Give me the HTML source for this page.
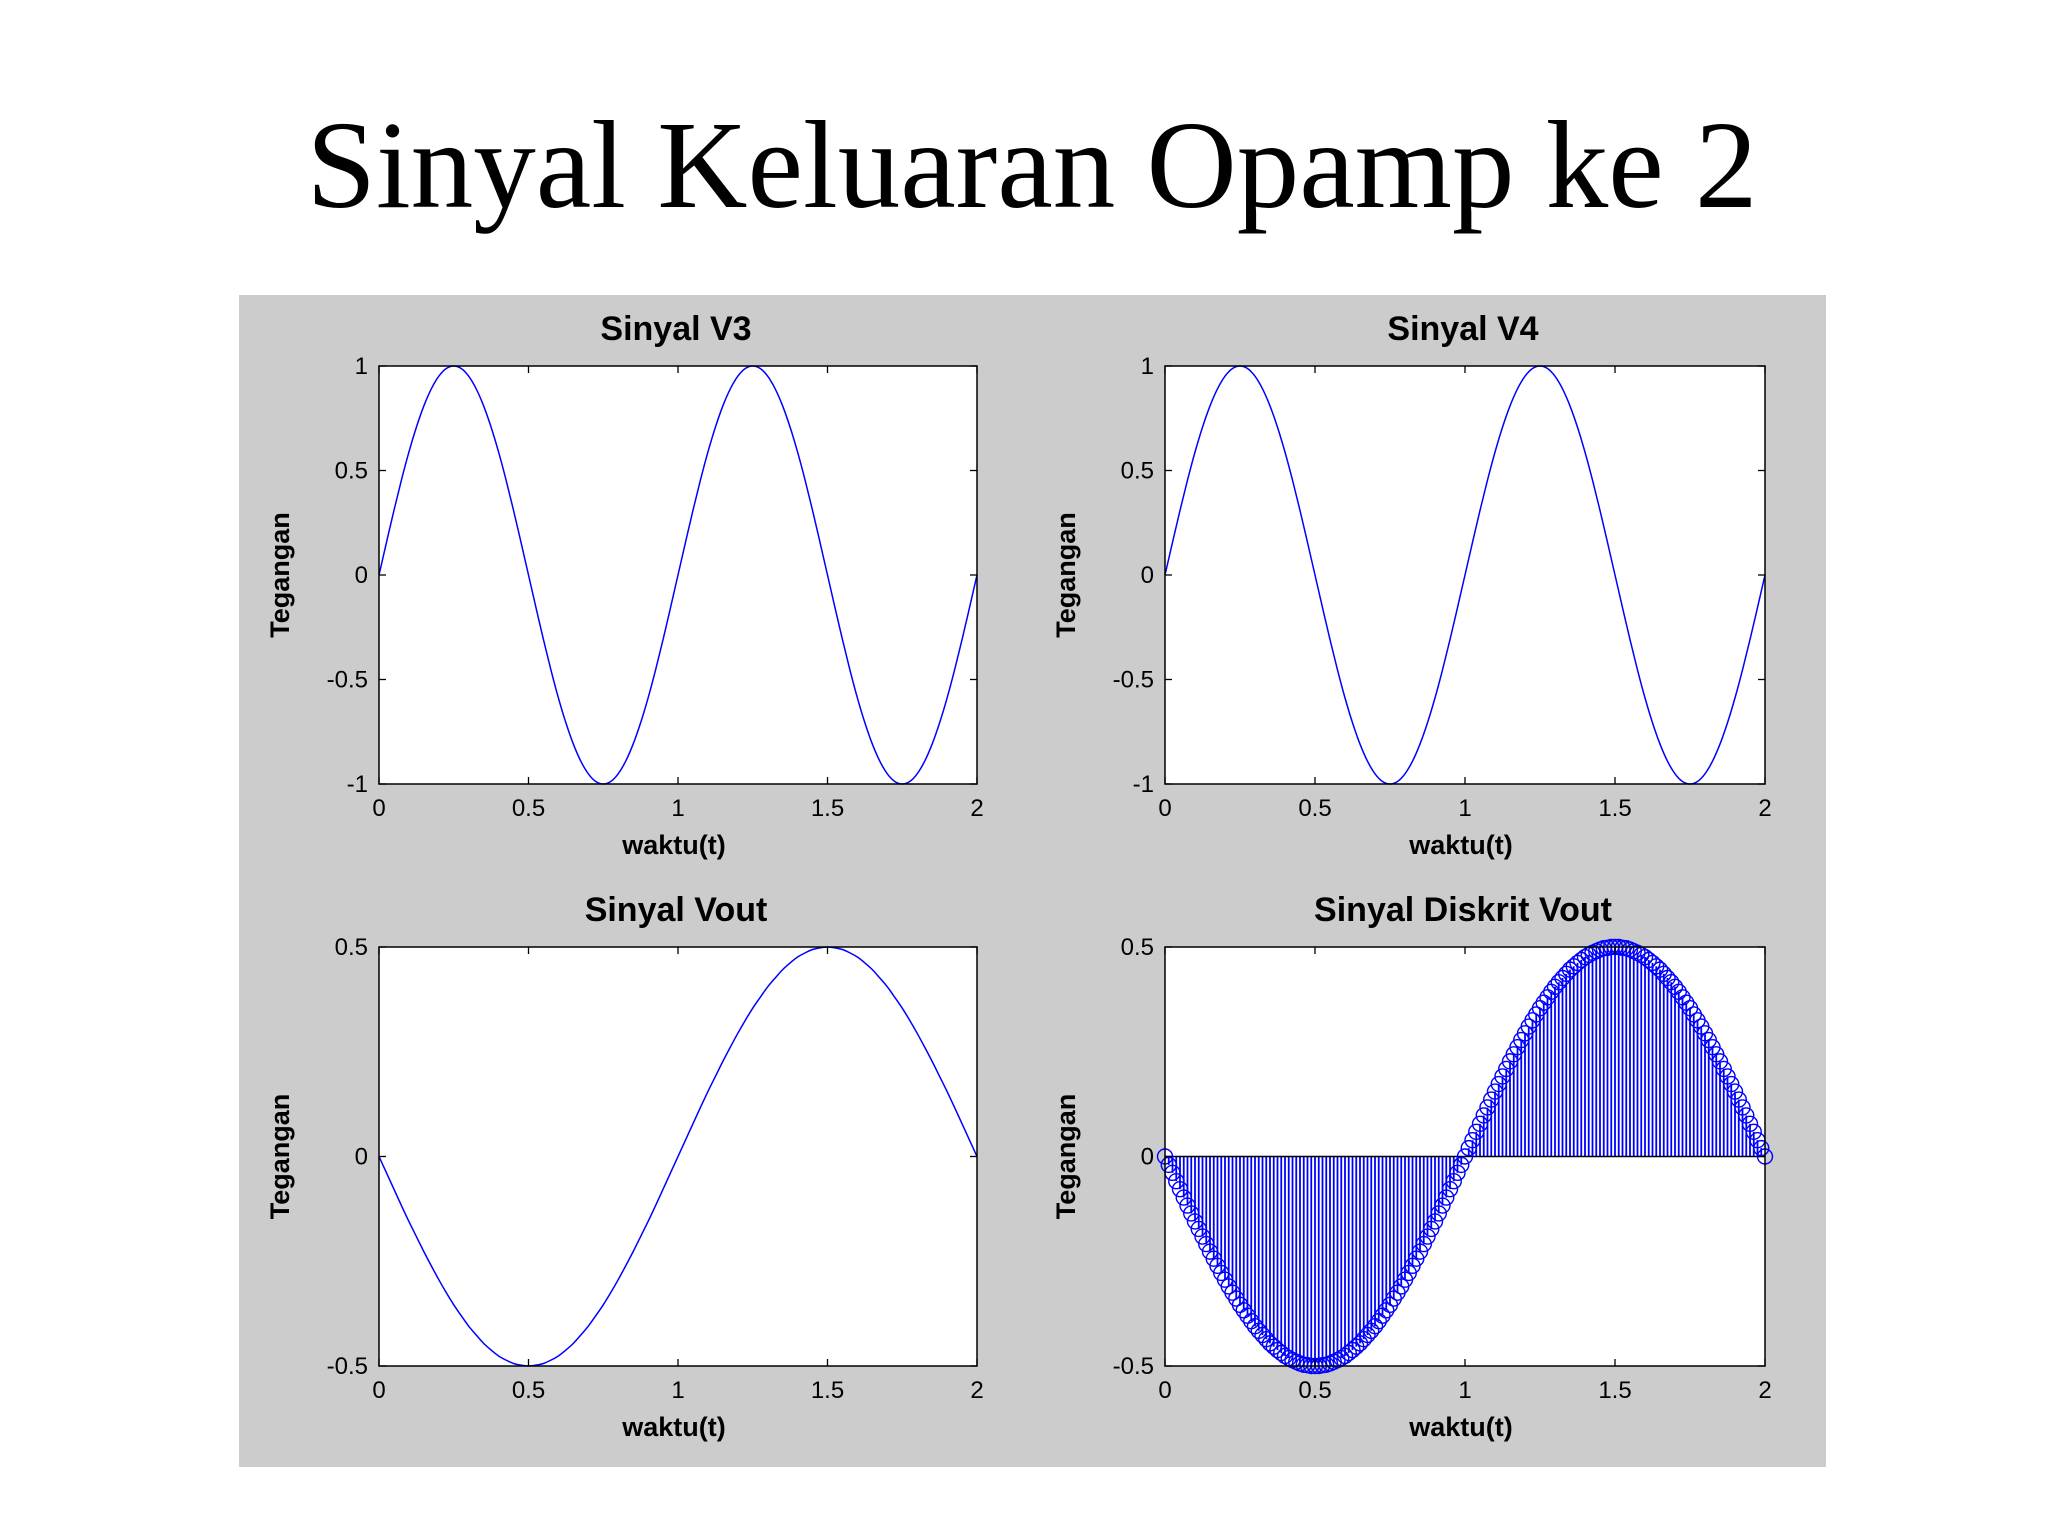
<!DOCTYPE html>
<html><head><meta charset="utf-8"><style>
html,body{margin:0;padding:0;background:#fff;}
body{width:2048px;height:1536px;position:relative;overflow:hidden;}
#title{position:absolute;left:0;width:2064px;top:104px;text-align:center;font-family:"Liberation Serif",serif;font-size:125px;color:#000;line-height:1;}
svg{position:absolute;left:0;top:0;}
</style></head><body>
<div id="title">Sinyal Keluaran Opamp ke 2</div>
<svg id="fig" width="2048" height="1536"></svg>
<script>
const v3Values = [0,.156,.309,.454,.588,.707,.809,.891,.951,.988,1,.988,.951,.891,.809,.707,.588,.454,.309,.156,0,-.156,-.309,-.454,-.588,-.707,-.809,-.891,-.951,-.988,-1,-.988,-.951,-.891,-.809,-.707,-.588,-.454,-.309,-.156,0,.156,.309,.454,.588,.707,.809,.891,.951,.988,1,.988,.951,.891,.809,.707,.588,.454,.309,.156,0,-.156,-.309,-.454,-.588,-.707,-.809,-.891,-.951,-.988,-1,-.988,-.951,-.891,-.809,-.707,-.588,-.454,-.309,-.156,0];
const v4Values = [0,.156,.309,.454,.588,.707,.809,.891,.951,.988,1,.988,.951,.891,.809,.707,.588,.454,.309,.156,0,-.156,-.309,-.454,-.588,-.707,-.809,-.891,-.951,-.988,-1,-.988,-.951,-.891,-.809,-.707,-.588,-.454,-.309,-.156,0,.156,.309,.454,.588,.707,.809,.891,.951,.988,1,.988,.951,.891,.809,.707,.588,.454,.309,.156,0,-.156,-.309,-.454,-.588,-.707,-.809,-.891,-.951,-.988,-1,-.988,-.951,-.891,-.809,-.707,-.588,-.454,-.309,-.156,0];
const voutValues = [0,-.039,-.078,-.117,-.155,-.191,-.227,-.261,-.294,-.325,-.354,-.380,-.405,-.426,-.446,-.462,-.476,-.486,-.494,-.498,-.5,-.498,-.494,-.486,-.476,-.462,-.446,-.426,-.405,-.380,-.354,-.325,-.294,-.261,-.227,-.191,-.155,-.117,-.078,-.039,0,.039,.078,.117,.155,.191,.227,.261,.294,.325,.354,.380,.405,.426,.446,.462,.476,.486,.494,.498,.5,.498,.494,.486,.476,.462,.446,.426,.405,.380,.354,.325,.294,.261,.227,.191,.155,.117,.078,.039,0];
const discreteValues = [0,-.020,-.039,-.059,-.078,-.098,-.117,-.136,-.155,-.173,-.191,-.209,-.227,-.244,-.261,-.278,-.294,-.310,-.325,-.339,-.354,-.367,-.380,-.393,-.405,-.416,-.426,-.436,-.446,-.454,-.462,-.469,-.476,-.481,-.486,-.490,-.494,-.497,-.498,-.500,-.5,
-.500,-.498,-.497,-.494,-.490,-.486,-.481,-.476,-.469,-.462,-.454,-.446,-.436,-.426,-.416,-.405,-.393,-.380,-.367,-.354,-.339,-.325,-.310,-.294,-.278,-.261,-.244,-.227,-.209,-.191,-.173,-.155,-.136,-.117,-.098,-.078,-.059,-.039,-.020,0,
.020,.039,.059,.078,.098,.117,.136,.155,.173,.191,.209,.227,.244,.261,.278,.294,.310,.325,.339,.354,.367,.380,.393,.405,.416,.426,.436,.446,.454,.462,.469,.476,.481,.486,.490,.494,.497,.498,.500,.5,
.500,.498,.497,.494,.490,.486,.481,.476,.469,.462,.454,.446,.436,.426,.416,.405,.393,.380,.367,.354,.339,.325,.310,.294,.278,.261,.244,.227,.209,.191,.173,.155,.136,.117,.098,.078,.059,.039,.020,0];
const xTicks = [0,0.5,1,1.5,2];
const xTickLabels = ["0","0.5","1","1.5","2"];
const yTicksTop = [-1,-0.5,0,0.5,1];
const yTickLabelsTop = ["-1","-0.5","0","0.5","1"];
const yTicksBot = [-0.5,0,0.5];
const yTickLabelsBot = ["-0.5","0","0.5"];
const titles = ["Sinyal V3","Sinyal V4","Sinyal Vout","Sinyal Diskrit Vout"];

const NS="http://www.w3.org/2000/svg";
const svg=document.getElementById('fig');
function mk(tag,attrs,parent){const e=document.createElementNS(NS,tag);for(const k in attrs)e.setAttribute(k,attrs[k]);(parent||svg).appendChild(e);return e;}
const bg=mk('rect',{x:239,y:295,width:1587,height:1172,fill:'#cccccc'});



function axes(idx,x0,x1,y0,y1,ymin,ymax,yt,ytl,vals,discrete){
  const g=mk('g',{});
  
  
  const sx=v=>x0+(v-0)/2*(x1-x0);
  const sy=v=>y1-(v-ymin)/(ymax-ymin)*(y1-y0);
  const r=mk('rect',{x:x0,y:y0,width:x1-x0,height:y1-y0,fill:'#fff',stroke:'none'},g);
  
  
  const n=vals.length;
  if(discrete){
    for(let i=0;i<n;i++){
      const t=i*2/(n-1);
      const s=mk('line',{x1:sx(t),x2:sx(t),y1:sy(0),y2:sy(vals[i]),stroke:'#0000ff',"stroke-width":1.8},g);
      
      
    }
    const base=mk('line',{x1:x0,x2:x1,y1:sy(0),y2:sy(0),stroke:'#000',"stroke-width":1.5},g);
    
    
    for(let i=0;i<n;i++){
      const t=i*2/(n-1);
      const c=mk('circle',{cx:sx(t),cy:sy(vals[i]),r:7.5,fill:'none',stroke:'#0000ff',"stroke-width":1.4},g);
      
      
    }
  } else {
    const pts=vals.map((v,i)=>[sx(i*2/(n-1)),sy(v)]);
    let d='M'+pts[0][0]+','+pts[0][1];
    for(let i=0;i<n-1;i++){
      const p0=pts[Math.max(0,i-1)],p1=pts[i],p2=pts[i+1],p3=pts[Math.min(n-1,i+2)];
      const c1=[p1[0]+(p2[0]-p0[0])/6,p1[1]+(p2[1]-p0[1])/6];
      const c2=[p2[0]-(p3[0]-p1[0])/6,p2[1]-(p3[1]-p1[1])/6];
      d+=` C${c1[0]},${c1[1]} ${c2[0]},${c2[1]} ${p2[0]},${p2[1]}`;
    }
    const l=mk('path',{d:d,fill:'none',stroke:'#0000ff',"stroke-width":1.5},g);
    
    
  }
  const b=mk('rect',{x:x0,y:y0,width:x1-x0,height:y1-y0,fill:'none',stroke:'#000',"stroke-width":1.5},g);
  
  
  const font='"Liberation Sans",Arial,sans-serif';
  xTicks.forEach((v,i)=>{
    const x=sx(v);
    mk('line',{x1:x,x2:x,y1:y1,y2:y1-7,stroke:'#000',"stroke-width":1.3},g);
    mk('line',{x1:x,x2:x,y1:y0,y2:y0+7,stroke:'#000',"stroke-width":1.3},g);
    const t=mk('text',{x:x,y:y1+32,"text-anchor":'middle',"font-family":font,"font-size":24,fill:'#000'},g);
    t.textContent=xTickLabels[i];
    
    
  });
  yt.forEach((v,i)=>{
    const y=sy(v);
    mk('line',{x1:x0,x2:x0+7,y1:y,y2:y,stroke:'#000',"stroke-width":1.3},g);
    mk('line',{x1:x1,x2:x1-7,y1:y,y2:y,stroke:'#000',"stroke-width":1.3},g);
    const t=mk('text',{x:x0-11,y:y+8,"text-anchor":'end',"font-family":font,"font-size":24,fill:'#000'},g);
    t.textContent=ytl[i];
    
    
  });
  const tt=mk('text',{x:(x0+x1)/2-2,y:y0-26,"text-anchor":'middle',"font-family":font,"font-size":34,"font-weight":'bold',fill:'#000'},g);
  tt.textContent=titles[idx];
  
  
  const xl=mk('text',{x:(x0+x1)/2-4,y:y1+70,"text-anchor":'middle',"font-family":font,"font-size":27,"font-weight":'bold',fill:'#000'},g);
  xl.textContent='waktu(t)';
  
  
  const yc=(y0+y1)/2, yx=x0-90;
  const yl=mk('text',{x:yx,y:yc,"text-anchor":'middle',"font-family":font,"font-size":27,"font-weight":'bold',fill:'#000',transform:`rotate(-90 ${yx} ${yc})`},g);
  yl.textContent='Tegangan';
  
  
}
axes(0,379,977,366,784,-1,1,yTicksTop,yTickLabelsTop,v3Values,false);
axes(1,1165,1765,366,784,-1,1,yTicksTop,yTickLabelsTop,v4Values,false);
axes(2,379,977,947,1366,-0.5,0.5,yTicksBot,yTickLabelsBot,voutValues,false);
axes(3,1165,1765,947,1366,-0.5,0.5,yTicksBot,yTickLabelsBot,discreteValues,true);
</script>
</body></html>
